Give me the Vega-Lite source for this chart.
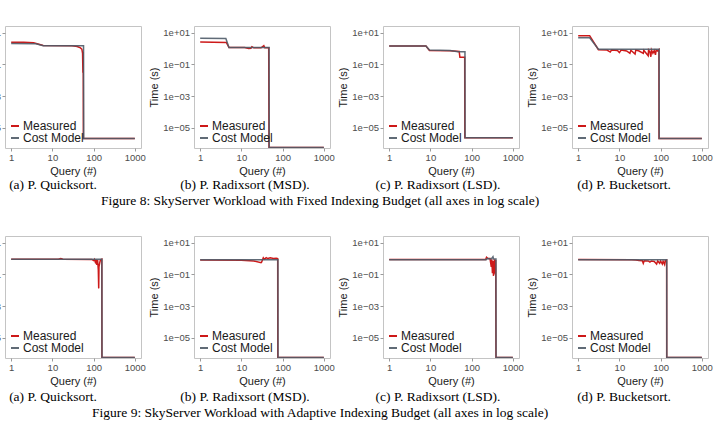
{
"$schema": "https://vega.github.io/schema/vega-lite/v6.json",
"background": "white",
"padding": {"left": -41, "top": 25, "right": 0, "bottom": 0},
"datasets": {"d": [
{"f":"8","p":"a","s":"Measured","q":1,"t":2.5},{"f":"8","p":"a","s":"Measured","q":2,"t":2.45},{"f":"8","p":"a","s":"Measured","q":3.5,"t":2.3},{"f":"8","p":"a","s":"Measured","q":6,"t":1.55},{"f":"8","p":"a","s":"Measured","q":30,"t":1.5},{"f":"8","p":"a","s":"Measured","q":40,"t":1.35},{"f":"8","p":"a","s":"Measured","q":48,"t":1.1},{"f":"8","p":"a","s":"Measured","q":52,"t":0.9},{"f":"8","p":"a","s":"Measured","q":54,"t":0.5},{"f":"8","p":"a","s":"Measured","q":55,"t":0.03},{"f":"8","p":"a","s":"Measured","q":55.5,"t":0.6},{"f":"8","p":"a","s":"Measured","q":56,"t":0.3},{"f":"8","p":"a","s":"Measured","q":56.5,"t":2.1e-6},{"f":"8","p":"a","s":"Measured","q":1000,"t":2.1e-6},
{"f":"8","p":"a","s":"Cost Model","q":1,"t":2.1},{"f":"8","p":"a","s":"Cost Model","q":4,"t":2.0},{"f":"8","p":"a","s":"Cost Model","q":6,"t":1.5},{"f":"8","p":"a","s":"Cost Model","q":57,"t":1.5},{"f":"8","p":"a","s":"Cost Model","q":57.5,"t":2.1e-6},{"f":"8","p":"a","s":"Cost Model","q":1000,"t":2.1e-6},
{"f":"8","p":"b","s":"Measured","q":1,"t":2.6},{"f":"8","p":"b","s":"Measured","q":4.3,"t":2.4},{"f":"8","p":"b","s":"Measured","q":5,"t":1.15},{"f":"8","p":"b","s":"Measured","q":12,"t":1.15},{"f":"8","p":"b","s":"Measured","q":15,"t":1.0},{"f":"8","p":"b","s":"Measured","q":17,"t":1.05},{"f":"8","p":"b","s":"Measured","q":18,"t":1.3},{"f":"8","p":"b","s":"Measured","q":20,"t":1.1},{"f":"8","p":"b","s":"Measured","q":30,"t":1.1},{"f":"8","p":"b","s":"Measured","q":35,"t":1.5},{"f":"8","p":"b","s":"Measured","q":37,"t":1.1},{"f":"8","p":"b","s":"Measured","q":46,"t":1.1},{"f":"8","p":"b","s":"Measured","q":46.8,"t":5.6e-7},{"f":"8","p":"b","s":"Measured","q":1000,"t":5.6e-7},
{"f":"8","p":"b","s":"Cost Model","q":1,"t":4.4},{"f":"8","p":"b","s":"Cost Model","q":4.2,"t":4.3},{"f":"8","p":"b","s":"Cost Model","q":5,"t":1.15},{"f":"8","p":"b","s":"Cost Model","q":47,"t":1.15},{"f":"8","p":"b","s":"Cost Model","q":47.3,"t":5.6e-7},{"f":"8","p":"b","s":"Cost Model","q":1000,"t":5.6e-7},
{"f":"8","p":"c","s":"Measured","q":1,"t":1.45},{"f":"8","p":"c","s":"Measured","q":7.8,"t":1.45},{"f":"8","p":"c","s":"Measured","q":9.5,"t":0.75},{"f":"8","p":"c","s":"Measured","q":30,"t":0.72},{"f":"8","p":"c","s":"Measured","q":50,"t":0.65},{"f":"8","p":"c","s":"Measured","q":52,"t":0.28},{"f":"8","p":"c","s":"Measured","q":68,"t":0.28},{"f":"8","p":"c","s":"Measured","q":68.5,"t":2.3e-6},{"f":"8","p":"c","s":"Measured","q":1000,"t":2.3e-6},
{"f":"8","p":"c","s":"Cost Model","q":1,"t":1.45},{"f":"8","p":"c","s":"Cost Model","q":7.8,"t":1.45},{"f":"8","p":"c","s":"Cost Model","q":9.5,"t":0.8},{"f":"8","p":"c","s":"Cost Model","q":30,"t":0.75},{"f":"8","p":"c","s":"Cost Model","q":47,"t":0.62},{"f":"8","p":"c","s":"Cost Model","q":69,"t":0.62},{"f":"8","p":"c","s":"Cost Model","q":69.5,"t":2.3e-6},{"f":"8","p":"c","s":"Cost Model","q":1000,"t":2.3e-6},
{"f":"8","p":"d","s":"Measured","q":1,"t":6.5},{"f":"8","p":"d","s":"Measured","q":1.9,"t":6.5},{"f":"8","p":"d","s":"Measured","q":3.1,"t":0.85},{"f":"8","p":"d","s":"Measured","q":5,"t":0.8},{"f":"8","p":"d","s":"Measured","q":6,"t":0.6},{"f":"8","p":"d","s":"Measured","q":6.5,"t":0.82},{"f":"8","p":"d","s":"Measured","q":9,"t":0.75},{"f":"8","p":"d","s":"Measured","q":10,"t":0.55},{"f":"8","p":"d","s":"Measured","q":11,"t":0.8},{"f":"8","p":"d","s":"Measured","q":15,"t":0.7},{"f":"8","p":"d","s":"Measured","q":18,"t":0.5},{"f":"8","p":"d","s":"Measured","q":19,"t":0.78},{"f":"8","p":"d","s":"Measured","q":24,"t":0.45},{"f":"8","p":"d","s":"Measured","q":25,"t":0.8},{"f":"8","p":"d","s":"Measured","q":30,"t":0.7},{"f":"8","p":"d","s":"Measured","q":38,"t":0.5},{"f":"8","p":"d","s":"Measured","q":39,"t":0.78},{"f":"8","p":"d","s":"Measured","q":50,"t":0.35},{"f":"8","p":"d","s":"Measured","q":51,"t":0.8},{"f":"8","p":"d","s":"Measured","q":55,"t":0.6},{"f":"8","p":"d","s":"Measured","q":58,"t":0.3},{"f":"8","p":"d","s":"Measured","q":60,"t":0.8},{"f":"8","p":"d","s":"Measured","q":65,"t":0.5},{"f":"8","p":"d","s":"Measured","q":70,"t":0.75},{"f":"8","p":"d","s":"Measured","q":75,"t":0.4},{"f":"8","p":"d","s":"Measured","q":78,"t":0.8},{"f":"8","p":"d","s":"Measured","q":85,"t":0.7},{"f":"8","p":"d","s":"Measured","q":91,"t":0.85},{"f":"8","p":"d","s":"Measured","q":91.5,"t":2.1e-6},{"f":"8","p":"d","s":"Measured","q":1000,"t":2.1e-6},
{"f":"8","p":"d","s":"Cost Model","q":1,"t":4.8},{"f":"8","p":"d","s":"Cost Model","q":1.9,"t":4.8},{"f":"8","p":"d","s":"Cost Model","q":3.1,"t":0.9},{"f":"8","p":"d","s":"Cost Model","q":92,"t":0.9},{"f":"8","p":"d","s":"Cost Model","q":92.5,"t":2.1e-6},{"f":"8","p":"d","s":"Cost Model","q":1000,"t":2.1e-6},
{"f":"9","p":"a","s":"Measured","q":1,"t":0.9},{"f":"9","p":"a","s":"Measured","q":14,"t":0.9},{"f":"9","p":"a","s":"Measured","q":16,"t":1.0},{"f":"9","p":"a","s":"Measured","q":18,"t":0.9},{"f":"9","p":"a","s":"Measured","q":90,"t":0.88},{"f":"9","p":"a","s":"Measured","q":100,"t":0.75},{"f":"9","p":"a","s":"Measured","q":105,"t":0.88},{"f":"9","p":"a","s":"Measured","q":110,"t":0.6},{"f":"9","p":"a","s":"Measured","q":115,"t":0.85},{"f":"9","p":"a","s":"Measured","q":120,"t":0.4},{"f":"9","p":"a","s":"Measured","q":125,"t":0.8},{"f":"9","p":"a","s":"Measured","q":130,"t":0.2},{"f":"9","p":"a","s":"Measured","q":133,"t":0.013},{"f":"9","p":"a","s":"Measured","q":135,"t":0.3},{"f":"9","p":"a","s":"Measured","q":140,"t":0.5},{"f":"9","p":"a","s":"Measured","q":145,"t":0.75},{"f":"9","p":"a","s":"Measured","q":150,"t":0.85},{"f":"9","p":"a","s":"Measured","q":158,"t":0.9},{"f":"9","p":"a","s":"Measured","q":159,"t":5.6e-7},{"f":"9","p":"a","s":"Measured","q":1000,"t":5.6e-7},
{"f":"9","p":"a","s":"Cost Model","q":1,"t":0.9},{"f":"9","p":"a","s":"Cost Model","q":159,"t":0.9},{"f":"9","p":"a","s":"Cost Model","q":160,"t":5.6e-7},{"f":"9","p":"a","s":"Cost Model","q":1000,"t":5.6e-7},
{"f":"9","p":"b","s":"Measured","q":1,"t":0.8},{"f":"9","p":"b","s":"Measured","q":10,"t":0.78},{"f":"9","p":"b","s":"Measured","q":20,"t":0.7},{"f":"9","p":"b","s":"Measured","q":30,"t":0.55},{"f":"9","p":"b","s":"Measured","q":31,"t":0.6},{"f":"9","p":"b","s":"Measured","q":34,"t":1.1},{"f":"9","p":"b","s":"Measured","q":36,"t":0.9},{"f":"9","p":"b","s":"Measured","q":40,"t":1.15},{"f":"9","p":"b","s":"Measured","q":44,"t":1.0},{"f":"9","p":"b","s":"Measured","q":50,"t":1.1},{"f":"9","p":"b","s":"Measured","q":60,"t":1.0},{"f":"9","p":"b","s":"Measured","q":70,"t":1.05},{"f":"9","p":"b","s":"Measured","q":76,"t":1.0},{"f":"9","p":"b","s":"Measured","q":76.5,"t":5.6e-7},{"f":"9","p":"b","s":"Measured","q":1000,"t":5.6e-7},
{"f":"9","p":"b","s":"Cost Model","q":1,"t":0.85},{"f":"9","p":"b","s":"Cost Model","q":77,"t":0.85},{"f":"9","p":"b","s":"Cost Model","q":77.5,"t":5.6e-7},{"f":"9","p":"b","s":"Cost Model","q":1000,"t":5.6e-7},
{"f":"9","p":"c","s":"Measured","q":1,"t":0.88},{"f":"9","p":"c","s":"Measured","q":220,"t":0.88},{"f":"9","p":"c","s":"Measured","q":230,"t":1.2},{"f":"9","p":"c","s":"Measured","q":250,"t":1.0},{"f":"9","p":"c","s":"Measured","q":280,"t":1.0},{"f":"9","p":"c","s":"Measured","q":300,"t":0.3},{"f":"9","p":"c","s":"Measured","q":310,"t":0.9},{"f":"9","p":"c","s":"Measured","q":320,"t":0.12},{"f":"9","p":"c","s":"Measured","q":330,"t":0.7},{"f":"9","p":"c","s":"Measured","q":340,"t":0.08},{"f":"9","p":"c","s":"Measured","q":350,"t":0.5},{"f":"9","p":"c","s":"Measured","q":360,"t":0.9},{"f":"9","p":"c","s":"Measured","q":375,"t":0.1},{"f":"9","p":"c","s":"Measured","q":385,"t":0.8},{"f":"9","p":"c","s":"Measured","q":390,"t":5.6e-7},{"f":"9","p":"c","s":"Measured","q":1000,"t":5.6e-7},
{"f":"9","p":"c","s":"Cost Model","q":1,"t":0.85},{"f":"9","p":"c","s":"Cost Model","q":225,"t":0.85},{"f":"9","p":"c","s":"Cost Model","q":240,"t":1.0},{"f":"9","p":"c","s":"Cost Model","q":300,"t":0.95},{"f":"9","p":"c","s":"Cost Model","q":330,"t":1.3},{"f":"9","p":"c","s":"Cost Model","q":340,"t":0.95},{"f":"9","p":"c","s":"Cost Model","q":390,"t":0.95},{"f":"9","p":"c","s":"Cost Model","q":392,"t":5.6e-7},{"f":"9","p":"c","s":"Cost Model","q":1000,"t":5.6e-7},
{"f":"9","p":"d","s":"Measured","q":1,"t":0.88},{"f":"9","p":"d","s":"Measured","q":20,"t":0.85},{"f":"9","p":"d","s":"Measured","q":25,"t":0.8},{"f":"9","p":"d","s":"Measured","q":30,"t":0.75},{"f":"9","p":"d","s":"Measured","q":36,"t":0.72},{"f":"9","p":"d","s":"Measured","q":38,"t":0.5},{"f":"9","p":"d","s":"Measured","q":40,"t":0.72},{"f":"9","p":"d","s":"Measured","q":50,"t":0.7},{"f":"9","p":"d","s":"Measured","q":55,"t":0.6},{"f":"9","p":"d","s":"Measured","q":60,"t":0.7},{"f":"9","p":"d","s":"Measured","q":70,"t":0.65},{"f":"9","p":"d","s":"Measured","q":80,"t":0.45},{"f":"9","p":"d","s":"Measured","q":85,"t":0.7},{"f":"9","p":"d","s":"Measured","q":95,"t":0.5},{"f":"9","p":"d","s":"Measured","q":100,"t":0.7},{"f":"9","p":"d","s":"Measured","q":110,"t":0.45},{"f":"9","p":"d","s":"Measured","q":115,"t":0.68},{"f":"9","p":"d","s":"Measured","q":125,"t":0.42},{"f":"9","p":"d","s":"Measured","q":130,"t":0.75},{"f":"9","p":"d","s":"Measured","q":140,"t":0.8},{"f":"9","p":"d","s":"Measured","q":140.5,"t":5.6e-7},{"f":"9","p":"d","s":"Measured","q":1000,"t":5.6e-7},
{"f":"9","p":"d","s":"Cost Model","q":1,"t":0.85},{"f":"9","p":"d","s":"Cost Model","q":141,"t":0.85},{"f":"9","p":"d","s":"Cost Model","q":141.5,"t":5.6e-7},{"f":"9","p":"d","s":"Cost Model","q":1000,"t":5.6e-7}
]},
"data": {"name": "d"},
"spacing": 210,
"bounds": "flush",
"resolve": {"scale": {"color": "independent", "x": "independent", "y": "independent"}, "legend": {"color": "independent"}},
"vconcat": [
{"hconcat": [
{"width": 136, "height": 122, "title": {"text": "(a) P. Quicksort.", "dx": -20},
 "transform": [{"filter": "datum.f == '8' && datum.p == 'a'"}],
 "mark": {"type": "line", "clip": true, "strokeWidth": 1.5, "opacity": 0.9},
 "encoding": {
  "x": {"field": "q", "type": "quantitative", "scale": {"type": "log", "domain": [0.708, 1413], "nice": false}, "axis": {"values": [1, 10, 100, 1000], "format": "d", "title": "Query (#)"}},
  "y": {"field": "t", "type": "quantitative", "scale": {"type": "log", "domain": [5.2e-7, 26.5], "nice": false}, "axis": {"values": [10, 0.1, 0.001, 0.00001], "labelExpr": "datum.value >= 1 ? '1e+01' : datum.value >= 0.01 ? '1e\u221201' : datum.value >= 0.0001 ? '1e\u221203' : '1e\u221205'", "title": "Time (s)"}},
  "color": {"field": "s", "type": "nominal", "sort": ["Measured", "Cost Model"], "scale": {"domain": ["Measured", "Cost Model"], "range": ["#c80000", "#4f5b68"]}, "legend": {"title": null}}
 }},
{"width": 136, "height": 122, "title": {"text": "(b) P. Radixsort (MSD).", "dx": -17},
 "transform": [{"filter": "datum.f == '8' && datum.p == 'b'"}],
 "mark": {"type": "line", "clip": true, "strokeWidth": 1.5, "opacity": 0.9},
 "encoding": {
  "x": {"field": "q", "type": "quantitative", "scale": {"type": "log", "domain": [0.708, 1413], "nice": false}, "axis": {"values": [1, 10, 100, 1000], "format": "d", "title": "Query (#)"}},
  "y": {"field": "t", "type": "quantitative", "scale": {"type": "log", "domain": [5.2e-7, 26.5], "nice": false}, "axis": {"values": [10, 0.1, 0.001, 0.00001], "labelExpr": "datum.value >= 1 ? '1e+01' : datum.value >= 0.01 ? '1e\u221201' : datum.value >= 0.0001 ? '1e\u221203' : '1e\u221205'", "title": "Time (s)"}},
  "color": {"field": "s", "type": "nominal", "sort": ["Measured", "Cost Model"], "scale": {"domain": ["Measured", "Cost Model"], "range": ["#c80000", "#4f5b68"]}, "legend": {"title": null}}
 }},
{"width": 136, "height": 122, "title": {"text": "(c) P. Radixsort (LSD).", "dx": -13},
 "transform": [{"filter": "datum.f == '8' && datum.p == 'c'"}],
 "mark": {"type": "line", "clip": true, "strokeWidth": 1.5, "opacity": 0.9},
 "encoding": {
  "x": {"field": "q", "type": "quantitative", "scale": {"type": "log", "domain": [0.708, 1413], "nice": false}, "axis": {"values": [1, 10, 100, 1000], "format": "d", "title": "Query (#)"}},
  "y": {"field": "t", "type": "quantitative", "scale": {"type": "log", "domain": [5.2e-7, 26.5], "nice": false}, "axis": {"values": [10, 0.1, 0.001, 0.00001], "labelExpr": "datum.value >= 1 ? '1e+01' : datum.value >= 0.01 ? '1e\u221201' : datum.value >= 0.0001 ? '1e\u221203' : '1e\u221205'", "title": "Time (s)"}},
  "color": {"field": "s", "type": "nominal", "sort": ["Measured", "Cost Model"], "scale": {"domain": ["Measured", "Cost Model"], "range": ["#c80000", "#4f5b68"]}, "legend": {"title": null}}
 }},
{"width": 136, "height": 122, "title": {"text": "(d) P. Bucketsort.", "dx": -16},
 "transform": [{"filter": "datum.f == '8' && datum.p == 'd'"}],
 "mark": {"type": "line", "clip": true, "strokeWidth": 1.5, "opacity": 0.9},
 "encoding": {
  "x": {"field": "q", "type": "quantitative", "scale": {"type": "log", "domain": [0.708, 1413], "nice": false}, "axis": {"values": [1, 10, 100, 1000], "format": "d", "title": "Query (#)"}},
  "y": {"field": "t", "type": "quantitative", "scale": {"type": "log", "domain": [5.2e-7, 26.5], "nice": false}, "axis": {"values": [10, 0.1, 0.001, 0.00001], "labelExpr": "datum.value >= 1 ? '1e+01' : datum.value >= 0.01 ? '1e\u221201' : datum.value >= 0.0001 ? '1e\u221203' : '1e\u221205'", "title": "Time (s)"}},
  "color": {"field": "s", "type": "nominal", "sort": ["Measured", "Cost Model"], "scale": {"domain": ["Measured", "Cost Model"], "range": ["#c80000", "#4f5b68"]}, "legend": {"title": null}}
 }}
], "spacing": 53, "bounds": "flush",
 "title": {"text": "Figure 8: SkyServer Workload with Fixed Indexing Budget (all axes in log scale)", "dx": -16, "offset": 2},
 "resolve": {"scale": {"color": "independent", "x": "independent", "y": "independent"}, "legend": {"color": "independent"}}},
{"hconcat": [
{"width": 136, "height": 122, "title": {"text": "(a) P. Quicksort.", "dx": -20, "offset": 4},
 "transform": [{"filter": "datum.f == '9' && datum.p == 'a'"}],
 "mark": {"type": "line", "clip": true, "strokeWidth": 1.5, "opacity": 0.9},
 "encoding": {
  "x": {"field": "q", "type": "quantitative", "scale": {"type": "log", "domain": [0.708, 1413], "nice": false}, "axis": {"values": [1, 10, 100, 1000], "format": "d", "title": "Query (#)"}},
  "y": {"field": "t", "type": "quantitative", "scale": {"type": "log", "domain": [5.2e-7, 26.5], "nice": false}, "axis": {"values": [10, 0.1, 0.001, 0.00001], "labelExpr": "datum.value >= 1 ? '1e+01' : datum.value >= 0.01 ? '1e\u221201' : datum.value >= 0.0001 ? '1e\u221203' : '1e\u221205'", "title": "Time (s)"}},
  "color": {"field": "s", "type": "nominal", "sort": ["Measured", "Cost Model"], "scale": {"domain": ["Measured", "Cost Model"], "range": ["#c80000", "#4f5b68"]}, "legend": {"title": null}}
 }},
{"width": 136, "height": 122, "title": {"text": "(b) P. Radixsort (MSD).", "dx": -17, "offset": 4},
 "transform": [{"filter": "datum.f == '9' && datum.p == 'b'"}],
 "mark": {"type": "line", "clip": true, "strokeWidth": 1.5, "opacity": 0.9},
 "encoding": {
  "x": {"field": "q", "type": "quantitative", "scale": {"type": "log", "domain": [0.708, 1413], "nice": false}, "axis": {"values": [1, 10, 100, 1000], "format": "d", "title": "Query (#)"}},
  "y": {"field": "t", "type": "quantitative", "scale": {"type": "log", "domain": [5.2e-7, 26.5], "nice": false}, "axis": {"values": [10, 0.1, 0.001, 0.00001], "labelExpr": "datum.value >= 1 ? '1e+01' : datum.value >= 0.01 ? '1e\u221201' : datum.value >= 0.0001 ? '1e\u221203' : '1e\u221205'", "title": "Time (s)"}},
  "color": {"field": "s", "type": "nominal", "sort": ["Measured", "Cost Model"], "scale": {"domain": ["Measured", "Cost Model"], "range": ["#c80000", "#4f5b68"]}, "legend": {"title": null}}
 }},
{"width": 136, "height": 122, "title": {"text": "(c) P. Radixsort (LSD).", "dx": -13, "offset": 4},
 "transform": [{"filter": "datum.f == '9' && datum.p == 'c'"}],
 "mark": {"type": "line", "clip": true, "strokeWidth": 1.5, "opacity": 0.9},
 "encoding": {
  "x": {"field": "q", "type": "quantitative", "scale": {"type": "log", "domain": [0.708, 1413], "nice": false}, "axis": {"values": [1, 10, 100, 1000], "format": "d", "title": "Query (#)"}},
  "y": {"field": "t", "type": "quantitative", "scale": {"type": "log", "domain": [5.2e-7, 26.5], "nice": false}, "axis": {"values": [10, 0.1, 0.001, 0.00001], "labelExpr": "datum.value >= 1 ? '1e+01' : datum.value >= 0.01 ? '1e\u221201' : datum.value >= 0.0001 ? '1e\u221203' : '1e\u221205'", "title": "Time (s)"}},
  "color": {"field": "s", "type": "nominal", "sort": ["Measured", "Cost Model"], "scale": {"domain": ["Measured", "Cost Model"], "range": ["#c80000", "#4f5b68"]}, "legend": {"title": null}}
 }},
{"width": 136, "height": 122, "title": {"text": "(d) P. Bucketsort.", "dx": -16, "offset": 4},
 "transform": [{"filter": "datum.f == '9' && datum.p == 'd'"}],
 "mark": {"type": "line", "clip": true, "strokeWidth": 1.5, "opacity": 0.9},
 "encoding": {
  "x": {"field": "q", "type": "quantitative", "scale": {"type": "log", "domain": [0.708, 1413], "nice": false}, "axis": {"values": [1, 10, 100, 1000], "format": "d", "title": "Query (#)"}},
  "y": {"field": "t", "type": "quantitative", "scale": {"type": "log", "domain": [5.2e-7, 26.5], "nice": false}, "axis": {"values": [10, 0.1, 0.001, 0.00001], "labelExpr": "datum.value >= 1 ? '1e+01' : datum.value >= 0.01 ? '1e\u221201' : datum.value >= 0.0001 ? '1e\u221203' : '1e\u221205'", "title": "Time (s)"}},
  "color": {"field": "s", "type": "nominal", "sort": ["Measured", "Cost Model"], "scale": {"domain": ["Measured", "Cost Model"], "range": ["#c80000", "#4f5b68"]}, "legend": {"title": null}}
 }}
], "spacing": 53, "bounds": "flush",
 "title": {"text": "Figure 9: SkyServer Workload with Adaptive Indexing Budget (all axes in log scale)", "dx": -16, "offset": 2},
 "resolve": {"scale": {"color": "independent", "x": "independent", "y": "independent"}, "legend": {"color": "independent"}}}
],
"config": {
 "view": {"stroke": "#c4c4c4", "strokeWidth": 1},
 "axis": {"domain": false, "grid": false, "ticks": true, "tickColor": "#9a9a9a", "tickSize": 3, "labelColor": "#4d4d4d", "labelFont": "Liberation Sans", "labelFontSize": 9.5, "labelPadding": 1.5, "titleFont": "Liberation Sans", "titleFontSize": 11, "titleFontWeight": "normal", "titleColor": "#1a1a1a", "titlePadding": 3},
 "legend": {"orient": "bottom-left", "offset": 4, "padding": 0, "symbolType": "stroke", "symbolSize": 64, "symbolStrokeWidth": 2, "labelFont": "Liberation Sans", "labelFontSize": 12, "labelColor": "#1a1a1a", "labelOffset": 2, "rowPadding": -2},
 "title": {"orient": "bottom", "anchor": "middle", "font": "Liberation Serif", "fontSize": 13.5, "fontWeight": "normal", "color": "#000000", "offset": 2}
}
}
